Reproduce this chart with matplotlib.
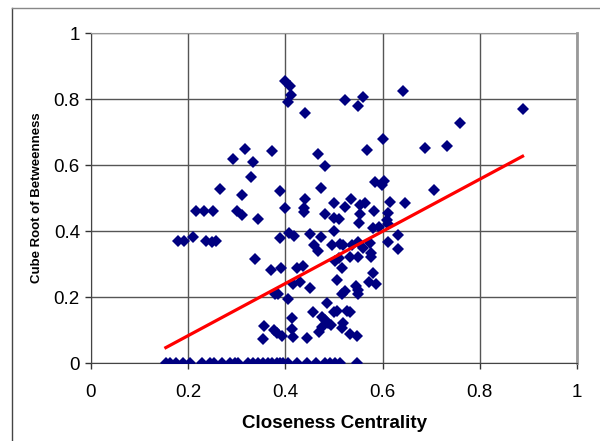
import numpy as np
import matplotlib.pyplot as plt
from matplotlib.lines import Line2D

plt.rcParams['font.family'] = ['Liberation Sans', 'DejaVu Sans']

# closeness centrality (x) and cube root of betweenness (y)
closeness = [
    0.399, 0.409, 0.412, 0.405, 0.317, 0.372, 0.293, 0.333, 0.330, 0.266,
    0.311, 0.388, 0.400, 0.217, 0.233, 0.252, 0.300, 0.310, 0.344,
    0.440, 0.523, 0.559, 0.550, 0.643, 0.760, 0.600, 0.468, 0.567, 0.688,
    0.732, 0.482, 0.473, 0.585, 0.598, 0.603, 0.706, 0.440, 0.439, 0.439,
    0.499, 0.534, 0.523, 0.553, 0.564, 0.582, 0.615, 0.646, 0.612, 0.553,
    0.482, 0.499, 0.511, 0.888,
    0.180, 0.192, 0.209, 0.236, 0.248, 0.257, 0.337, 0.370, 0.391, 0.389,
    0.408, 0.418, 0.423, 0.416, 0.379, 0.384, 0.406, 0.413, 0.356, 0.377,
    0.383, 0.392, 0.353, 0.414, 0.415,
    0.552, 0.610, 0.612, 0.593, 0.580, 0.500, 0.451, 0.473, 0.631, 0.612,
    0.631, 0.458, 0.468, 0.495, 0.512, 0.518, 0.538, 0.550, 0.560, 0.574,
    0.577, 0.577, 0.533, 0.550, 0.502, 0.510, 0.437, 0.516, 0.580, 0.430,
    0.507, 0.571, 0.586, 0.451, 0.545, 0.550, 0.550, 0.523, 0.516, 0.485,
    0.456, 0.499, 0.507, 0.526, 0.533, 0.475, 0.481, 0.488, 0.493, 0.475,
    0.470, 0.519, 0.516, 0.533, 0.547, 0.445,
    0.154, 0.163, 0.175, 0.190, 0.204, 0.228, 0.245, 0.253, 0.269, 0.286,
    0.296, 0.303, 0.324, 0.334, 0.344, 0.354, 0.365, 0.372, 0.382, 0.389,
    0.396, 0.406, 0.423, 0.444, 0.463, 0.481, 0.492, 0.502, 0.512, 0.547,
]
betweenness = [
    0.855, 0.838, 0.813, 0.791, 0.649, 0.643, 0.619, 0.608, 0.564, 0.528,
    0.510, 0.521, 0.469, 0.462, 0.462, 0.462, 0.462, 0.448, 0.436,
    0.758, 0.796, 0.805, 0.779, 0.824, 0.727, 0.680, 0.634, 0.646, 0.652,
    0.658, 0.596, 0.529, 0.547, 0.540, 0.552, 0.524, 0.496, 0.469, 0.457,
    0.484, 0.496, 0.474, 0.479, 0.486, 0.462, 0.489, 0.484, 0.455, 0.453,
    0.452, 0.438, 0.435, 0.769,
    0.370, 0.370, 0.383, 0.370, 0.366, 0.370, 0.315, 0.281, 0.288, 0.378,
    0.395, 0.385, 0.289, 0.239, 0.209, 0.209, 0.193, 0.137, 0.113, 0.100,
    0.092, 0.082, 0.072, 0.102, 0.078,
    0.425, 0.433, 0.421, 0.411, 0.408, 0.401, 0.390, 0.383, 0.388, 0.366,
    0.344, 0.358, 0.340, 0.358, 0.361, 0.358, 0.358, 0.366, 0.347, 0.363,
    0.332, 0.322, 0.322, 0.320, 0.310, 0.317, 0.294, 0.289, 0.272, 0.246,
    0.252, 0.246, 0.239, 0.228, 0.233, 0.221, 0.209, 0.218, 0.209, 0.183,
    0.156, 0.156, 0.159, 0.159, 0.156, 0.138, 0.130, 0.120, 0.115, 0.110,
    0.095, 0.120, 0.105, 0.088, 0.082, 0.075,
    0, 0, 0, 0, 0, 0, 0, 0, 0, 0,
    0, 0, 0, 0, 0, 0, 0, 0, 0, 0,
    0, 0, 0, 0, 0, 0, 0, 0, 0, 0,
]

# linear trendline
trend_slope = 0.79
trend_intercept = -0.075

x = np.array(closeness)
y = np.array(betweenness)

fig = plt.figure(figsize=(6, 4.41), dpi=100)
ax = fig.add_axes([91/600, 1-363/441, 486/600, 330/441])

ax.plot(x, y, 'D', color='#000080', markersize=5.8, markeredgewidth=0, zorder=3)

xt = np.array([x.min(), x.max()])
ax.plot(xt, trend_slope*xt + trend_intercept, color='#ff0000', lw=2.3, zorder=4)

ax.set_xlim(0, 1)
ax.set_ylim(0, 1)
ticks = [0, 0.2, 0.4, 0.6, 0.8, 1]
labels = ['0', '0.2', '0.4', '0.6', '0.8', '1']
ax.set_xticks(ticks)
ax.set_yticks(ticks)
ax.set_xticklabels(labels)
ax.set_yticklabels(labels)
ax.grid(True, color='#555555', lw=1)
ax.set_axisbelow(True)
ax.tick_params(direction='out', length=4, width=1, color='#333333', labelsize=13.5)
ax.tick_params(axis='y', pad=4)
ax.tick_params(axis='x', pad=11)

for s in ['left', 'bottom']:
    ax.spines[s].set_color('#444444')
ax.spines['top'].set_color('#999999')
ax.spines['right'].set_color('#999999')
ax.spines['right'].set_linewidth(2)

ax.set_xlabel('Closeness Centrality', fontsize=13.5, fontweight='bold', labelpad=10)
ax.set_ylabel('Cube Root of Betweenness', fontsize=9.5, fontweight='bold', labelpad=8)

# chart area border: only left and top edges show in the crop
fig.add_artist(Line2D([12/600, 12/600], [0, 1-8/441], transform=fig.transFigure,
                      color='#444444', lw=1))
fig.add_artist(Line2D([12/600, 1], [1-8/441, 1-8/441], transform=fig.transFigure,
                      color='#888888', lw=1))

fig.savefig('out.png', dpi=100)
